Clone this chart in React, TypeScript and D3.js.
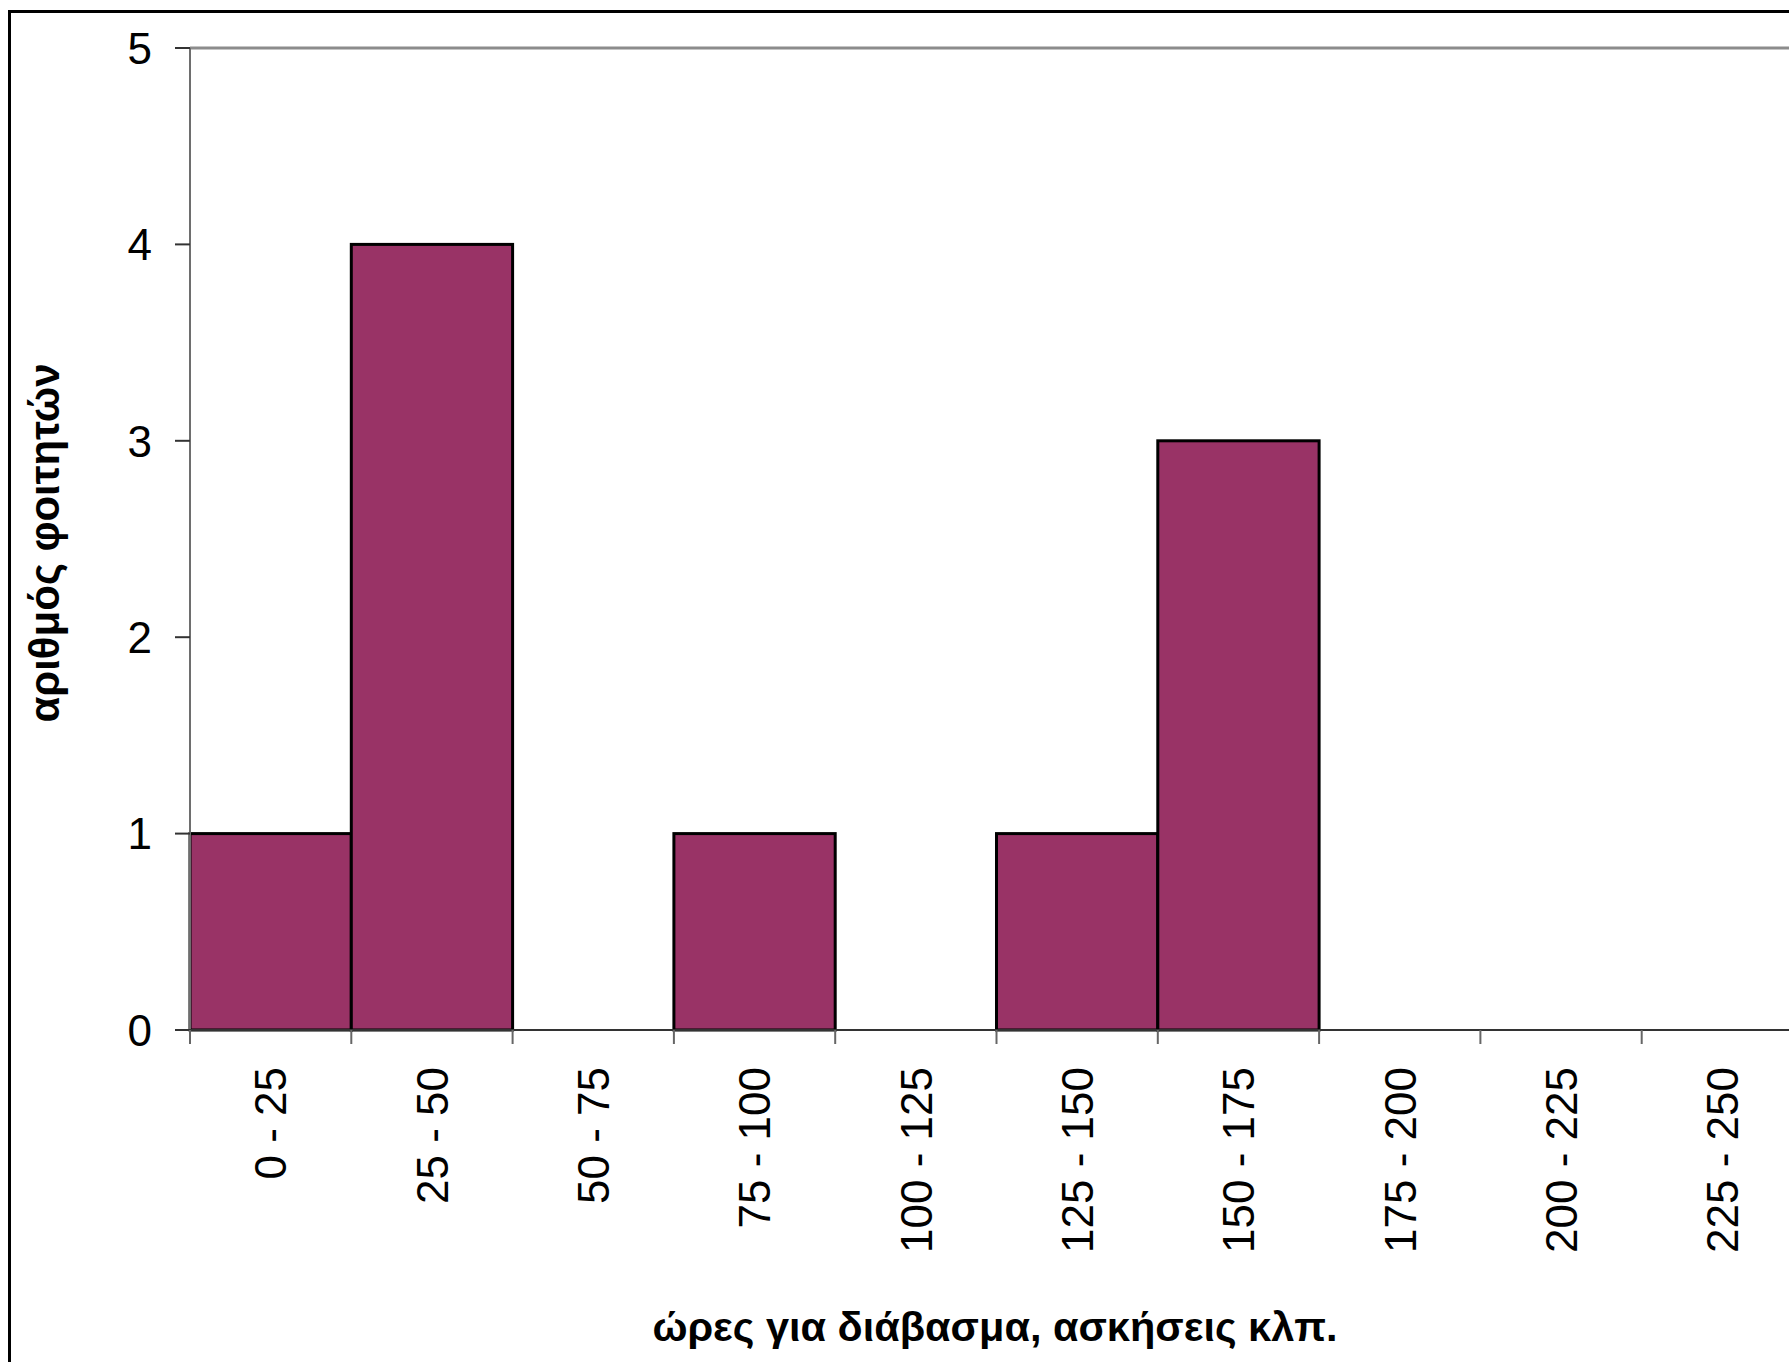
import React from "react";
import * as d3 from "d3";

// Histogram of study hours per student
const categories = [
  "0 - 25",
  "25 - 50",
  "50 - 75",
  "75 - 100",
  "100 - 125",
  "125 - 150",
  "150 - 175",
  "175 - 200",
  "200 - 225",
  "225 - 250",
];
const counts = [1, 4, 0, 1, 0, 1, 3, 0, 0, 0];
const yTicks = [0, 1, 2, 3, 4, 5];

const xTitle = "ώρες για διάβασμα, ασκήσεις κλπ.";
const yTitle = "αριθμός φοιτητών";

const W = 1789;
const H = 1362;
const plotLeft = 190;
const plotRight = 1803;
const plotTop = 48;
const plotBottom = 1030;
const font = "Arial, 'Liberation Sans', sans-serif";

export default function App() {
  const x = d3.scaleBand<string>().domain(categories).range([plotLeft, plotRight]).padding(0);
  const y = d3.scaleLinear().domain([0, 5]).range([plotBottom, plotTop]);
  const bw = x.bandwidth();
  const boundaries = categories.map((c) => x(c) as number).concat([plotRight]);

  return (
    <svg
      width={W}
      height={H}
      style={{ position: "absolute", left: 0, top: 0, background: "#fff" }}
      fontFamily={font}
    >
      <rect x={0} y={0} width={W} height={H} fill="#fff" />
      {/* outer chart frame */}
      <rect x={9.5} y={11.5} width={W + 20} height={H + 20} fill="none" stroke="#000" strokeWidth={3} />

      {/* top gridline at max value */}
      <line x1={plotLeft} x2={W} y1={y(5)} y2={y(5)} stroke="#8c8c8c" strokeWidth={3} />

      {/* bars */}
      {categories.map((c, i) =>
        counts[i] > 0 ? (
          <rect
            key={c}
            x={x(c)}
            y={y(counts[i])}
            width={bw}
            height={y(0) - y(counts[i])}
            fill="#993366"
            stroke="#000"
            strokeWidth={3}
          />
        ) : null
      )}

      {/* y axis */}
      <line x1={plotLeft} x2={plotLeft} y1={plotTop} y2={plotBottom} stroke="#6e6e6e" strokeWidth={2} />
      {yTicks.map((t) => (
        <g key={t}>
          <line x1={plotLeft - 15} x2={plotLeft} y1={y(t)} y2={y(t)} stroke="#333" strokeWidth={2} />
          <text x={152} y={y(t)} dy="0.36em" textAnchor="end" fontSize={44} fill="#000">
            {t}
          </text>
        </g>
      ))}

      {/* x axis */}
      <line x1={plotLeft} x2={W} y1={plotBottom} y2={plotBottom} stroke="#333" strokeWidth={2} />
      {boundaries.map((b, i) => (
        <line key={i} x1={b} x2={b} y1={plotBottom} y2={plotBottom + 14} stroke="#666" strokeWidth={2} />
      ))}
      {categories.map((c) => {
        const cx = (x(c) as number) + bw / 2;
        const ty = 1067;
        return (
          <text
            key={c}
            transform={`translate(${cx},${ty}) rotate(-90)`}
            textAnchor="end"
            dy="0.36em"
            fontSize={44}
            fill="#000"
          >
            {c}
          </text>
        );
      })}

      {/* axis titles */}
      <text x={995} y={1341} textAnchor="middle" fontSize={41.5} fontWeight="bold" fill="#000">
        {xTitle}
      </text>
      <text
        transform={`translate(44,543) rotate(-90)`}
        textAnchor="middle"
        dy="0.36em"
        fontSize={42}
        fontWeight="bold"
        fill="#000"
      >
        {yTitle}
      </text>
    </svg>
  );
}
